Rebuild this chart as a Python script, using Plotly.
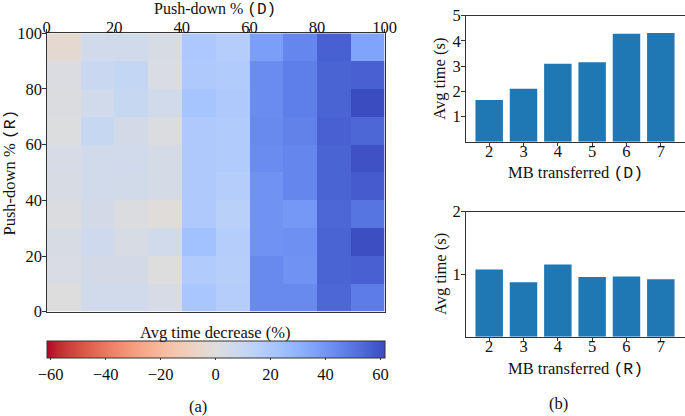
import plotly.graph_objects as go

# ---- data ----
push_d = [5, 15, 25, 35, 45, 55, 65, 75, 85, 95]   # cell centres, Push-down % (D)
push_r = [5, 15, 25, 35, 45, 55, 65, 75, 85, 95]   # cell centres, Push-down % (R)
# rows listed from top (R=90-100) to bottom (R=0-10)
row_r95 = [-4, 6, 6, 3, 20, 17, 37, 45, 56, 35]
row_r85 = [1.5, 9, 11, 2, 19, 18, 43, 47, 55, 56]
row_r75 = [1, 6, 10, 6, 22, 19, 43, 47, 55, 61.5]
row_r65 = [0.5, 10, 5, 1, 19, 18, 44, 46, 56, 54]
row_r55 = [3.5, 6, 6, 4, 19, 18, 43, 45, 55, 60]
row_r45 = [3, 6, 5.5, 4, 19, 17, 41, 45, 55, 57]
row_r35 = [1, 5, 1, -1, 19, 15, 41, 39, 54, 50]
row_r25 = [3, 7, 3, 6, 23.5, 17, 41, 41.5, 55, 61]
row_r15 = [2, 5, 5, 0, 18, 16, 44, 41, 55, 56]
row_r05 = [0, 6, 6, 3.5, 21, 17, 44, 44, 54, 48]
decrease = [row_r05, row_r15, row_r25, row_r35, row_r45,
            row_r55, row_r65, row_r75, row_r85, row_r95]
heat_ticks = [0, 20, 40, 60, 80, 100]
cbar_ticks = [-60, -40, -20, 0, 20, 40, 60]

mb = [2, 3, 4, 5, 6, 7]
time_d = [1.65, 2.10, 3.09, 3.15, 4.28, 4.31]
time_r = [1.075, 0.87, 1.155, 0.957, 0.963, 0.92]

# coolwarm (reversed: blue = positive)
cw = [(59,76,192),(68,90,204),(77,104,215),(87,117,225),(98,130,234),(108,142,241),
      (119,154,247),(130,165,251),(141,176,254),(152,185,255),(163,194,255),(174,201,253),
      (184,208,249),(194,213,244),(204,217,238),(213,219,230),(221,221,221),(229,216,209),
      (236,211,197),(241,204,185),(245,196,173),(247,187,160),(247,177,148),(247,166,135),
      (244,154,123),(241,141,111),(236,127,99),(229,112,88),(222,96,77),(213,80,66),
      (203,62,56),(192,40,47),(180,4,38)]
cw_r = list(reversed(cw))
colorscale = [[i / (len(cw_r) - 1), "rgb(%d,%d,%d)" % c] for i, c in enumerate(cw_r)]

W, H = 685, 416
def px(x): return x / W
def py(y): return 1 - y / H

SERIF = "Liberation Serif"
MONO = "Liberation Mono"
FS = 16.5
def mono(s): return '<span style="font-family:%s">%s</span>' % (MONO, s)
tfont = dict(family=SERIF, size=FS, color="#111")

fig = go.Figure()
fig.add_trace(go.Heatmap(
    x=push_d, y=push_r, z=decrease, colorscale=colorscale, zmin=-61.5, zmax=61.5,
    xaxis="x", yaxis="y",
    colorbar=dict(orientation="h", x=px((46.7 + 384.5) / 2), xanchor="center",
                  len=338 / W, lenmode="fraction", y=py(341), yanchor="top",
                  thickness=17, thicknessmode="pixels", xpad=0, ypad=0,
                  outlinewidth=1, outlinecolor="#333",
                  tickvals=cbar_ticks, ticks="outside", ticklen=2, tickcolor="#333",
                  tickfont=tfont),
))
fig.add_trace(go.Bar(x=mb, y=time_d, marker=dict(color="#1f77b4", line=dict(width=0)),
                     width=0.8, xaxis="x2", yaxis="y2"))
fig.add_trace(go.Bar(x=mb, y=time_r, marker=dict(color="#1f77b4", line=dict(width=0)),
                     width=0.8, xaxis="x3", yaxis="y3"))

axcommon = dict(showline=True, linecolor="#333", linewidth=1, mirror=True,
                showgrid=False, zeroline=False, ticks="outside", ticklen=3.5,
                tickcolor="#333", automargin=False, tickfont=tfont)
xcommon = dict(ticklabelstandoff=-9, **axcommon)
ycommon = dict(ticklabelstandoff=-3, **axcommon)

def ann(text, x, y, angle=0, size=FS):
    return dict(text=text, x=px(x), y=py(y), xref="paper", yref="paper",
                showarrow=False, font=dict(family=SERIF, size=size, color="#111"),
                xanchor="center", yanchor="middle", textangle=angle, borderpad=0)

fig.update_layout(
    width=W, height=H, margin=dict(l=0, r=0, t=0, b=0),
    paper_bgcolor="white", plot_bgcolor="white", showlegend=False,
    xaxis=dict(domain=[px(46.7), px(384.5)], anchor="y", side="top", range=[0, 100],
               tickvals=heat_ticks, ticklabelstandoff=-11,
               **axcommon),
    yaxis=dict(domain=[py(311.7), py(33.3)], anchor="x", range=[0, 100],
               tickvals=heat_ticks, **ycommon),
    xaxis2=dict(domain=[px(465.5), px(684.5)], anchor="y2", range=[1.31, 7.69],
                tickvals=mb, **xcommon),
    yaxis2=dict(domain=[py(141.7), py(15.7)], anchor="x2", range=[0, 5],
                tickvals=[1, 2, 3, 4, 5], **ycommon),
    xaxis3=dict(domain=[px(465.5), px(684.5)], anchor="y3", range=[1.31, 7.69],
                tickvals=mb, **xcommon),
    yaxis3=dict(domain=[py(336.7), py(211.7)], anchor="x3", range=[0, 2],
                tickvals=[1, 2], **ycommon),
    annotations=[
        ann("Push-down % " + mono("(D)"), 215, 9, size=16),
        ann("Push-down % " + mono("(R)"), 9, 172.5, -90),
        ann("Avg time decrease (%)", 215, 332.7),
        ann("MB transferred " + mono("(D)"), 575, 173),
        ann("Avg time (s)", 440, 78.7, -90),
        ann("MB transferred " + mono("(R)"), 575, 369),
        ann("Avg time (s)", 440, 274, -90),
        ann("(a)", 198, 406.7),
        ann("(b)", 558, 403),
    ],
)

fig.write_html("out.html", config={"displayModeBar": False},
               post_script="document.body.style.margin='0';document.body.style.padding='0';document.body.style.overflow='hidden';")
